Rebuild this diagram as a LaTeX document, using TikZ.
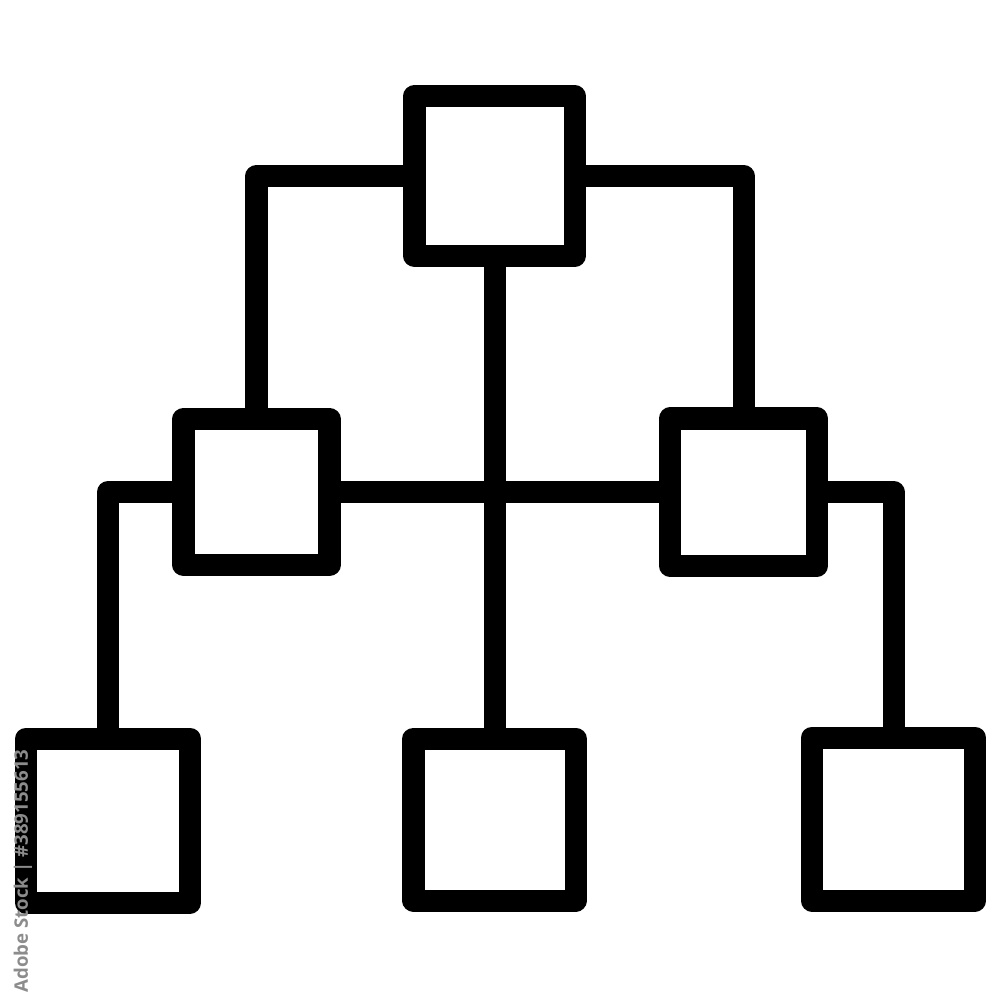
\documentclass[tikz,border=0pt]{standalone}
\usepackage{fontspec}
\newfontfamily\wmfont{Open Sans}
\begin{document}
\begin{tikzpicture}[x=0.01cm,y=-0.01cm,
  box/.style={draw=black,fill=white,line width=0.22cm,line join=round,
    rectangle,inner sep=0pt,outer sep=0pt,minimum width=#1*0.01cm,minimum height=#1*0.01cm},
  link/.style={draw=black,line width=0.22cm,line join=round,line cap=butt}]
\useasboundingbox[fill=white] (0,0) rectangle (1000,1000);
\node[box=160] (top) at (494.5,176) {};
\node[box=146] (ml) at (256.5,492) {};
\node[box=147] (mr) at (743.5,492) {};
\node[box=164] (bl) at (108,820.5) {};
\node[box=162] (bc) at (494.5,819.5) {};
\node[box=163] (br) at (893.5,819) {};
\draw[link] (top.west) -| (ml.north);
\draw[link] (top.east) -| (mr.north);
\draw[link] (top.south) -- (bc.north);
\draw[link] (ml.east) -- (mr.west);
\draw[link] (ml.west) -| (bl.north);
\draw[link] (mr.east) -| (br.north);
\node[rotate=90,anchor=west,text=black!45,font=\wmfont\bfseries\fontsize{5.3pt}{6pt}\selectfont,inner sep=0pt] (wm) at (23,993) {Adobe Stock | \#389155613};
\end{tikzpicture}
\end{document}
